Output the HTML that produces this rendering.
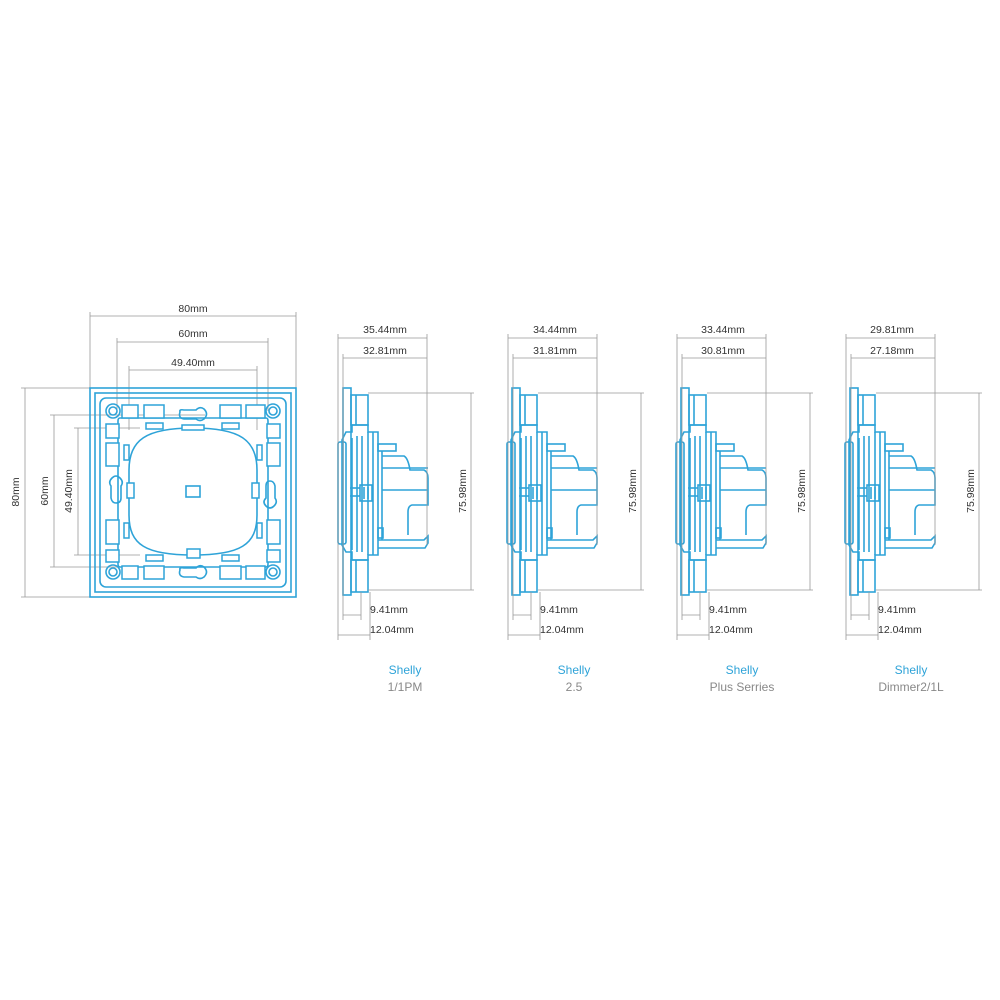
<!DOCTYPE html>
<html><head><meta charset="utf-8"><style>
html,body{margin:0;padding:0;background:#fff;}
svg{display:block;}
text{font-family:"Liberation Sans",sans-serif;font-size:10.5px;fill:#333;}
.d{stroke:#999;stroke-width:0.8;fill:none;}
.b{stroke:#2ea3d8;stroke-width:1.6;fill:none;}
.bf{stroke:#2ea3d8;stroke-width:1.5;fill:#fff;}
</style></head><body>
<svg width="1000" height="1000" viewBox="0 0 1000 1000" xmlns="http://www.w3.org/2000/svg">
<defs>
<g id="side">
  <rect class="b" x="1" y="388" width="8" height="207"/>
  <rect class="b" x="9" y="395" width="17" height="30"/>
  <rect class="b" x="9" y="560" width="17" height="32"/>
  <line class="b" x1="14" y1="395" x2="14" y2="425"/>
  <line class="b" x1="14" y1="560" x2="14" y2="592"/>
  <path class="b" d="M10 425 H26 V432 H36 V555 H26 V560 H10 V552 H4 L0 545 V440 L4 432 H10 Z"/>
  <rect class="b" x="-4" y="442" width="8" height="102" rx="2"/>
  <line class="b" x1="10" y1="438" x2="10" y2="550"/>
  <line class="b" x1="15" y1="436" x2="15" y2="552"/>
  <line class="b" x1="20" y1="436" x2="20" y2="552"/>
  <line class="b" x1="26" y1="432" x2="26" y2="555"/>
  <line class="b" x1="31" y1="432" x2="31" y2="555"/>
  <rect class="b" x="18" y="485" width="12" height="16"/>
  <line class="b" x1="22" y1="487" x2="22" y2="499"/>
  <line class="b" x1="26" y1="487" x2="26" y2="499"/>
  <line class="b" x1="8" y1="488" x2="18" y2="488"/>
  <line class="b" x1="8" y1="496" x2="18" y2="496"/>
  <rect class="b" x="36" y="444" width="18" height="7"/>
  <path class="b" d="M40 451 V540 M40 456 H62 Q66 458 68 470 H82 Q86 472 86 478 V505 H70 Q66 506 66 512 V535 M40 468 H86 M40 490 H86"/>
  <path class="b" d="M36 540 H82 L86 536 V543 L83 548 H36"/>
  <rect class="b" x="36" y="528" width="5" height="10"/>
</g>
</defs>

<g>
  <line class="d" x1="90" y1="316" x2="296" y2="316"/>
  <line class="d" x1="90" y1="312" x2="90" y2="388"/>
  <line class="d" x1="296" y1="312" x2="296" y2="388"/>
  <text x="193" y="312" text-anchor="middle">80mm</text>
  <line class="d" x1="117" y1="342" x2="268" y2="342"/>
  <line class="d" x1="117" y1="338" x2="117" y2="411"/>
  <line class="d" x1="268" y1="338" x2="268" y2="411"/>
  <text x="193" y="337" text-anchor="middle">60mm</text>
  <line class="d" x1="129" y1="370" x2="257" y2="370"/>
  <line class="d" x1="129" y1="366" x2="129" y2="430"/>
  <line class="d" x1="257" y1="366" x2="257" y2="430"/>
  <text x="193" y="366" text-anchor="middle">49.40mm</text>

  <line class="d" x1="25" y1="388" x2="25" y2="597"/>
  <line class="d" x1="21" y1="388" x2="90" y2="388"/>
  <line class="d" x1="21" y1="597" x2="90" y2="597"/>
  <text transform="translate(19,492) rotate(-90)" text-anchor="middle">80mm</text>
  <line class="d" x1="54" y1="415" x2="54" y2="567"/>
  <line class="d" x1="50" y1="415" x2="205" y2="415"/>
  <line class="d" x1="50" y1="567" x2="190" y2="567"/>
  <text transform="translate(48,491) rotate(-90)" text-anchor="middle">60mm</text>
  <line class="d" x1="78" y1="428" x2="78" y2="555"/>
  <line class="d" x1="74" y1="428" x2="140" y2="428"/>
  <line class="d" x1="74" y1="555" x2="140" y2="555"/>
  <text transform="translate(72,491) rotate(-90)" text-anchor="middle">49.40mm</text>

  <rect class="b" x="90" y="388" width="206" height="209"/>
  <rect class="b" x="95" y="393" width="196" height="199"/>
  <rect class="b" x="100" y="398" width="186" height="189" rx="6"/>
  <path class="b" d="M120 418 H266 Q268 418 268 421 V564 Q268 567 266 567 H120 Q118 567 118 564 V421 Q118 418 120 418 Z"/>
  <circle class="b" cx="113" cy="411" r="7"/><circle class="b" cx="113" cy="411" r="4"/>
  <circle class="b" cx="273" cy="411" r="7"/><circle class="b" cx="273" cy="411" r="4"/>
  <circle class="b" cx="113" cy="572" r="7"/><circle class="b" cx="113" cy="572" r="4"/>
  <circle class="b" cx="273" cy="572" r="7"/><circle class="b" cx="273" cy="572" r="4"/>
  <rect class="bf" x="122" y="405" width="16" height="13"/>
  <rect class="bf" x="144" y="405" width="20" height="13"/>
  <rect class="bf" x="220" y="405" width="21" height="13"/>
  <rect class="bf" x="246" y="405" width="19" height="13"/>
  <rect class="bf" x="122" y="566" width="16" height="13"/>
  <rect class="bf" x="144" y="566" width="20" height="13"/>
  <rect class="bf" x="220" y="566" width="21" height="13"/>
  <rect class="bf" x="246" y="566" width="19" height="13"/>
  <rect class="bf" x="146" y="423" width="17" height="6"/>
  <rect class="bf" x="222" y="423" width="17" height="6"/>
  <rect class="bf" x="146" y="555" width="17" height="6"/>
  <rect class="bf" x="222" y="555" width="17" height="6"/>
  <rect class="bf" x="106" y="443" width="13" height="23"/>
  <rect class="bf" x="106" y="520" width="13" height="24"/>
  <rect class="bf" x="267" y="443" width="13" height="23"/>
  <rect class="bf" x="267" y="520" width="13" height="24"/>
  <rect class="bf" x="106" y="424" width="13" height="14"/>
  <rect class="bf" x="267" y="424" width="13" height="14"/>
  <rect class="bf" x="106" y="550" width="13" height="12"/>
  <rect class="bf" x="267" y="550" width="13" height="12"/>
  <rect class="bf" x="124" y="445" width="5" height="15"/>
  <rect class="bf" x="257" y="445" width="5" height="15"/>
  <rect class="bf" x="124" y="523" width="5" height="15"/>
  <rect class="bf" x="257" y="523" width="5" height="15"/>
  <path class="b" d="M180 412 Q178 418 184 419 H196 Q200 422 204 419 Q209 414 204 409 Q200 406 196 410 H184 Q179 409 180 412 Z"/>
  <path class="b" d="M180 570 Q178 576 184 577 H196 Q200 580 204 577 Q209 572 204 567 Q200 564 196 568 H184 Q179 567 180 570 Z"/>
  <path class="b" d="M112 478 Q108 482 111 486 V498 Q112 503 116 503 Q121 503 121 498 V486 Q124 482 120 478 Q116 474 112 478 Z"/>
  <path class="b" d="M266 486 V498 Q262 502 266 506 Q270 510 274 506 Q278 502 275 498 V486 Q274 481 270 481 Q266 481 266 486 Z"/>
  <path class="b" d="M193 428 C240 428 257 440 257 470 V515 C257 545 240 555 193 555 C146 555 129 545 129 515 V470 C129 440 146 428 193 428 Z"/>
  <rect class="bf" x="182" y="425" width="22" height="5"/>
  <rect class="b" x="186" y="486" width="14" height="11"/>
  <rect class="bf" x="127" y="483" width="7" height="15"/>
  <rect class="bf" x="252" y="483" width="7" height="15"/>
  <rect class="bf" x="187" y="549" width="13" height="9"/>
</g>

<g transform="translate(342,0)"><use href="#side"/></g>
<g transform="translate(511,0)"><use href="#side"/></g>
<g transform="translate(680,0)"><use href="#side"/></g>
<g transform="translate(849,0)"><use href="#side"/></g>

<g id="dims1">
  <line class="d" x1="338" y1="338" x2="427" y2="338"/>
  <line class="d" x1="343" y1="358" x2="427" y2="358"/>
  <line class="d" x1="338" y1="334" x2="338" y2="640"/>
  <line class="d" x1="343" y1="354" x2="343" y2="620"/>
  <line class="d" x1="427" y1="334" x2="427" y2="545"/>
  <line class="d" x1="368" y1="393" x2="474" y2="393"/>
  <line class="d" x1="368" y1="590" x2="474" y2="590"/>
  <line class="d" x1="471" y1="393" x2="471" y2="590"/>
  <line class="d" x1="361" y1="592" x2="361" y2="620"/>
  <line class="d" x1="370" y1="592" x2="370" y2="640"/>
  <line class="d" x1="343" y1="615" x2="361" y2="615"/>
  <line class="d" x1="338" y1="635" x2="370" y2="635"/>
</g>
<use href="#dims1" transform="translate(170,0)"/>
<use href="#dims1" transform="translate(339,0)"/>
<use href="#dims1" transform="translate(508,0)"/>

<text x="385" y="333" text-anchor="middle">35.44mm</text>
<text x="385" y="354" text-anchor="middle">32.81mm</text>
<text x="555" y="333" text-anchor="middle">34.44mm</text>
<text x="555" y="354" text-anchor="middle">31.81mm</text>
<text x="723" y="333" text-anchor="middle">33.44mm</text>
<text x="723" y="354" text-anchor="middle">30.81mm</text>
<text x="892" y="333" text-anchor="middle">29.81mm</text>
<text x="892" y="354" text-anchor="middle">27.18mm</text>

<text transform="translate(466,491) rotate(-90)" text-anchor="middle">75.98mm</text>
<text transform="translate(636,491) rotate(-90)" text-anchor="middle">75.98mm</text>
<text transform="translate(805,491) rotate(-90)" text-anchor="middle">75.98mm</text>
<text transform="translate(974,491) rotate(-90)" text-anchor="middle">75.98mm</text>

<text x="370" y="613">9.41mm</text><text x="370" y="633">12.04mm</text>
<text x="540" y="613">9.41mm</text><text x="540" y="633">12.04mm</text>
<text x="709" y="613">9.41mm</text><text x="709" y="633">12.04mm</text>
<text x="878" y="613">9.41mm</text><text x="878" y="633">12.04mm</text>

<text x="405" y="674" text-anchor="middle" style="fill:#2ea3d8;font-size:12px">Shelly</text>
<text x="405" y="691" text-anchor="middle" style="fill:#888;font-size:12px">1/1PM</text>
<text x="574" y="674" text-anchor="middle" style="fill:#2ea3d8;font-size:12px">Shelly</text>
<text x="574" y="691" text-anchor="middle" style="fill:#888;font-size:12px">2.5</text>
<text x="742" y="674" text-anchor="middle" style="fill:#2ea3d8;font-size:12px">Shelly</text>
<text x="742" y="691" text-anchor="middle" style="fill:#888;font-size:12px">Plus Serries</text>
<text x="911" y="674" text-anchor="middle" style="fill:#2ea3d8;font-size:12px">Shelly</text>
<text x="911" y="691" text-anchor="middle" style="fill:#888;font-size:12px">Dimmer2/1L</text>
</svg>
</body></html>
